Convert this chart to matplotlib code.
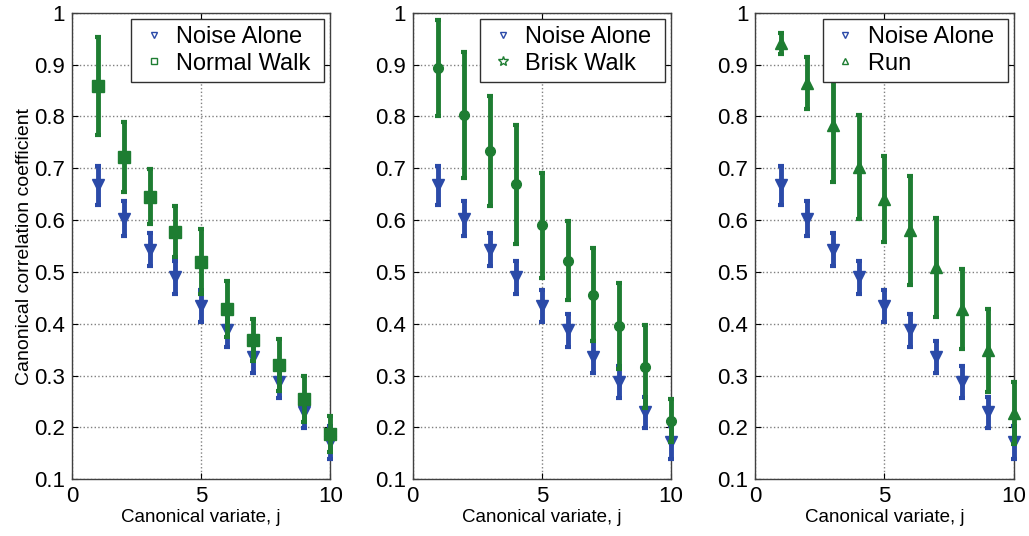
import matplotlib
matplotlib.use("Agg")
import matplotlib.pyplot as plt
from matplotlib.lines import Line2D
import numpy as np

plt.rcParams['font.family'] = ['Liberation Sans', 'DejaVu Sans']

j = [1, 2, 3, 4, 5, 6, 7, 8, 9, 10]

noise_mean = [0.667, 0.603, 0.543, 0.490, 0.435, 0.387, 0.335, 0.287, 0.229, 0.171]
noise_err = [0.037, 0.033, 0.032, 0.032, 0.031, 0.031, 0.031, 0.031, 0.030, 0.032]

normal_mean = [0.859, 0.722, 0.645, 0.578, 0.520, 0.429, 0.369, 0.320, 0.255, 0.187]
normal_err = [0.095, 0.068, 0.053, 0.050, 0.062, 0.054, 0.041, 0.050, 0.044, 0.034]

brisk_mean = [0.893, 0.803, 0.734, 0.669, 0.590, 0.522, 0.456, 0.395, 0.317, 0.213]
brisk_err = [0.093, 0.122, 0.106, 0.115, 0.101, 0.077, 0.090, 0.083, 0.080, 0.042]

run_mean = [0.941, 0.864, 0.783, 0.703, 0.640, 0.580, 0.509, 0.429, 0.349, 0.228]
run_err = [0.021, 0.050, 0.110, 0.100, 0.083, 0.106, 0.096, 0.077, 0.080, 0.060]

panels = [
    ("Normal Walk", normal_mean, normal_err, 's', 's'),
    ("Brisk Walk", brisk_mean, brisk_err, 'o', '*'),
    ("Run", run_mean, run_err, '^', '^'),
]

blue = '#2b4aa8'
green = '#1e7d32'

fig = plt.figure(figsize=(10.29, 5.36), dpi=100)
lefts = [0.070, 0.401, 0.734]
width = 0.251
bottom = 0.106
height = 0.870

yticks = [0.1, 0.2, 0.3, 0.4, 0.5, 0.6, 0.7, 0.8, 0.9, 1.0]
ylabels = ['0.1', '0.2', '0.3', '0.4', '0.5', '0.6', '0.7', '0.8', '0.9', '1']

for i, (name, m, e, mk, lmk) in enumerate(panels):
    ax = fig.add_axes([lefts[i], bottom, width, height])
    c1 = ax.errorbar(j, noise_mean, yerr=noise_err, fmt='v', color=blue,
                     markersize=9, elinewidth=3.5, capsize=2.5, capthick=3, zorder=3)
    ms = 8 if mk != 'o' else 7
    c2 = ax.errorbar(j, m, yerr=e, fmt=mk, color=green,
                     markersize=ms, elinewidth=3.5, capsize=2.5, capthick=3, zorder=4)
    for cont in (c1, c2):
        for art in cont.get_children():
            art.set_clip_on(False)
    ax.set_xlim(0, 10)
    ax.set_ylim(0.1, 1.0)
    ax.set_xticks([0, 5, 10])
    ax.set_xticklabels(['0', '5', '10'])
    ax.set_yticks(yticks)
    ax.set_yticklabels(ylabels)
    ax.tick_params(direction='in', labelsize=16, length=4, width=0.8,
                   top=True, right=True, pad=5)
    ax.grid(True, linestyle=':', color='#808080', linewidth=1.0)
    ax.set_axisbelow(True)
    for s in ax.spines.values():
        s.set_color('#404040')
        s.set_linewidth(1.0)
    ax.set_xlabel('Canonical variate, j', fontsize=13.5, labelpad=1)
    if i == 0:
        ax.set_ylabel('Canonical correlation coefficient', fontsize=14, labelpad=1)
    handles = [
        Line2D([], [], linestyle='none', marker='v', markersize=5,
               markerfacecolor='none', markeredgecolor=blue, markeredgewidth=1),
        Line2D([], [], linestyle='none', marker=lmk, markersize=5 if lmk != '*' else 7,
               markerfacecolor='none', markeredgecolor=green, markeredgewidth=1),
    ]
    leg = ax.legend(handles, ['Noise Alone ', name + ' '], loc='upper right',
                    fontsize=17, frameon=True, fancybox=False, framealpha=1,
                    edgecolor='#303030', borderpad=0.3, labelspacing=0.2,
                    handlelength=1.3, handletextpad=0.3, borderaxespad=0.25)
    leg.get_frame().set_linewidth(1.0)

fig.savefig('out.png', dpi=100)
